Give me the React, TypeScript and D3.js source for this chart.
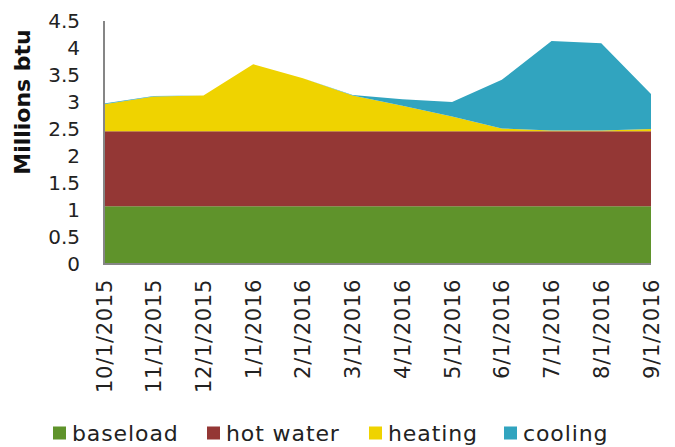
import React from "react";
import * as d3 from "d3";

const months = [
  "10/1/2015",
  "11/1/2015",
  "12/1/2015",
  "1/1/2016",
  "2/1/2016",
  "3/1/2016",
  "4/1/2016",
  "5/1/2016",
  "6/1/2016",
  "7/1/2016",
  "8/1/2016",
  "9/1/2016",
];

const baseload = [1.07, 1.07, 1.07, 1.07, 1.07, 1.07, 1.07, 1.07, 1.07, 1.07, 1.07, 1.07];
const hotWater = [1.39, 1.39, 1.39, 1.39, 1.39, 1.39, 1.39, 1.39, 1.39, 1.39, 1.39, 1.39];
const heating = [0.5, 0.64, 0.66, 1.24, 0.98, 0.66, 0.47, 0.27, 0.05, 0.01, 0.01, 0.04];
const cooling = [0.01, 0.01, 0, 0, 0, 0.01, 0.12, 0.27, 0.9, 1.66, 1.62, 0.65];

const yTicks = [0, 0.5, 1, 1.5, 2, 2.5, 3, 3.5, 4, 4.5];

const seriesNames = ["baseload", "hot water", "heating", "cooling"];
const seriesColors = ["#5f932b", "#943735", "#efd300", "#31a4bf"];

const W = 675;
const H = 447;
const margin = { left: 104, right: 24, top: 21, bottom: 183 };
const FONT = "'DejaVu Sans', sans-serif";

const App = () => {
  const rows = months.map((m, i) => ({
    month: m,
    baseload: baseload[i],
    "hot water": hotWater[i],
    heating: heating[i],
    cooling: cooling[i],
  }));

  const stacked = d3.stack<any>().keys(seriesNames)(rows);

  const x = d3
    .scalePoint()
    .domain(months)
    .range([margin.left, W - margin.right]);

  const y = d3
    .scaleLinear()
    .domain([0, 4.5])
    .range([H - margin.bottom, margin.top]);

  const area = d3
    .area<any>()
    .x((d) => x(d.data.month) as number)
    .y0((d) => y(d[0]))
    .y1((d) => y(d[1]));

  // legend spots
  const legendX = [53, 207, 369, 504];

  return (
    <svg
      width={W}
      height={H}
      style={{ position: "absolute", left: 0, top: 0, fontFamily: FONT }}
    >
      {stacked.map((s, i) => (
        <path key={s.key} d={area(s) as string} fill={seriesColors[i]} />
      ))}

      <line
        x1={margin.left}
        x2={margin.left}
        y1={y(4.5)}
        y2={y(0) + 1}
        stroke="#868686"
        strokeWidth={2}
      />
      <line
        x1={margin.left - 1}
        x2={W - margin.right}
        y1={y(0)}
        y2={y(0)}
        stroke="#868686"
        strokeWidth={2}
      />

      {yTicks.map((t) => (
        <text
          key={t}
          x={80}
          y={y(t)}
          dy="0.36em"
          textAnchor="end"
          fontSize={20}
          fill="#222"
        >
          {t}
        </text>
      ))}

      {months.map((m) => (
        <text
          key={m}
          transform={`translate(${x(m)},${y(0) + 15}) rotate(-90)`}
          dy="0.36em"
          textAnchor="end"
          fontSize={21}
          letterSpacing={0.7}
          fill="#222"
        >
          {m}
        </text>
      ))}

      <text
        transform={`translate(22,${(32 + 172) / 2}) rotate(-90)`}
        dy="0.36em"
        textAnchor="middle"
        fontSize={22}
        fontWeight="bold"
        fill="#111"
      >
        Millions btu
      </text>

      {seriesNames.map((n, i) => (
        <g key={n} transform={`translate(${legendX[i]},433)`}>
          <rect x={0} y={-6.5} width={13} height={13} fill={seriesColors[i]} />
          <text x={19} dy="0.36em" fontSize={22} letterSpacing={0.9} fill="#222">
            {n}
          </text>
        </g>
      ))}
    </svg>
  );
};

export default App;
